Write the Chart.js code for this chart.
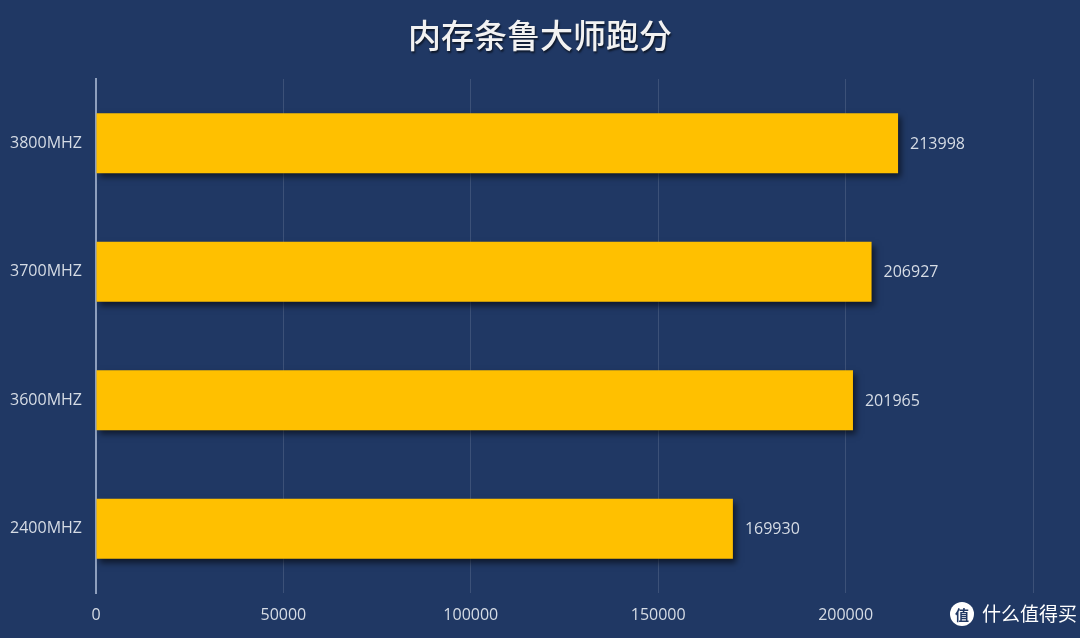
<!DOCTYPE html>
<html lang="zh">
<head>
  <meta charset="UTF-8" />
  <title>内存条鲁大师跑分</title>
  <script src="https://cdn.jsdelivr.net/npm/chart.js"></script>
  <style>
    html, body { margin: 0; padding: 0; background: #203864; }
    #wrap { position: relative; width: 1080px; height: 638px; }
  </style>
</head>
<body>
  <div id="wrap">
    <canvas id="scoreChart" width="1080" height="638"></canvas>
  </div>

  <script>
    const chartTitle = '内存条鲁大师跑分';
    const categories = ['3800MHZ', '3700MHZ', '3600MHZ', '2400MHZ'];
    const scores = [213998, 206927, 201965, 169930];
    const xTicks = [0, 50000, 100000, 150000, 200000, 250000];

    const textColor = '#d6dce5';
    const labelFont = '16px "Open Sans", "Noto Sans", sans-serif';

    // title, bar shadow, value labels and watermark
    const extras = {
      id: 'extras',
      beforeDatasetsDraw(chart) {
        const ctx = chart.ctx;
        ctx.save();
        ctx.shadowColor = 'rgba(0, 0, 0, 0.55)';
        ctx.shadowBlur = 6;
        ctx.shadowOffsetX = 3;
        ctx.shadowOffsetY = 4;
      },
      afterDatasetsDraw(chart) {
        const ctx = chart.ctx;
        ctx.restore();

        // value labels
        const meta = chart.getDatasetMeta(0);
        ctx.save();
        ctx.font = labelFont;
        ctx.fillStyle = textColor;
        ctx.textAlign = 'left';
        ctx.textBaseline = 'middle';
        meta.data.forEach((bar, i) => {
          ctx.fillText(String(scores[i]), bar.x + 12, bar.y + 1);
        });
        ctx.restore();
      },
      afterDraw(chart) {
        const ctx = chart.ctx;

        // title
        ctx.save();
        ctx.font = '500 33px "Noto Sans CJK SC", sans-serif';
        ctx.textAlign = 'center';
        ctx.textBaseline = 'middle';
        ctx.shadowColor = 'rgba(0, 0, 0, 0.6)';
        ctx.shadowOffsetX = 1;
        ctx.shadowOffsetY = 2;
        ctx.shadowBlur = 2;
        ctx.fillStyle = '#f2f2f2';
        ctx.fillText(chartTitle, 540, 35);
        ctx.restore();

        // watermark
        ctx.save();
        ctx.fillStyle = '#ffffff';
        ctx.beginPath();
        ctx.arc(962, 614, 12, 0, Math.PI * 2);
        ctx.fill();
        ctx.fillStyle = '#203864';
        ctx.font = 'bold 14px "Noto Sans CJK SC", sans-serif';
        ctx.textAlign = 'center';
        ctx.textBaseline = 'middle';
        ctx.fillText('值', 962, 615);
        ctx.fillStyle = '#ffffff';
        ctx.font = '19px "Noto Sans CJK SC", sans-serif';
        ctx.textAlign = 'left';
        ctx.fillText('什么值得买', 982, 614);
        ctx.restore();
      }
    };

    new Chart(document.getElementById('scoreChart').getContext('2d'), {
      type: 'bar',
      data: {
        labels: categories,
        datasets: [{
          data: scores,
          backgroundColor: '#ffc000',
          borderWidth: 0,
          categoryPercentage: 0.93,
          barPercentage: 0.5
        }]
      },
      options: {
        indexAxis: 'y',
        responsive: false,
        animation: false,
        layout: { padding: { top: 79, right: 47, left: 0, bottom: 0 } },
        plugins: {
          legend: { display: false },
          tooltip: { enabled: false },
          title: { display: false }
        },
        scales: {
          x: {
            min: 0,
            max: 250000,
            afterBuildTicks(scale) {
              scale.ticks = xTicks.map(v => ({ value: v }));
            },
            afterFit(scale) { scale.height = 45; },
            grid: {
              color: 'rgba(255, 255, 255, 0.13)',
              lineWidth: 1,
              drawTicks: false
            },
            border: { display: false },
            ticks: {
              color: textColor,
              font: { family: '"Open Sans", "Noto Sans", sans-serif', size: 16 },
              padding: 13,
              maxRotation: 0,
              callback: v => (v === 250000 ? '' : String(v))
            }
          },
          y: {
            afterFit(scale) { scale.width = 96; },
            grid: { display: false, drawTicks: false },
            border: { display: true, color: '#8e9fbd', width: 2 },
            ticks: {
              color: textColor,
              font: { family: '"Open Sans", "Noto Sans", sans-serif', size: 16 },
              padding: 14
            }
          }
        }
      },
      plugins: [extras]
    });
  </script>
</body>
</html>
